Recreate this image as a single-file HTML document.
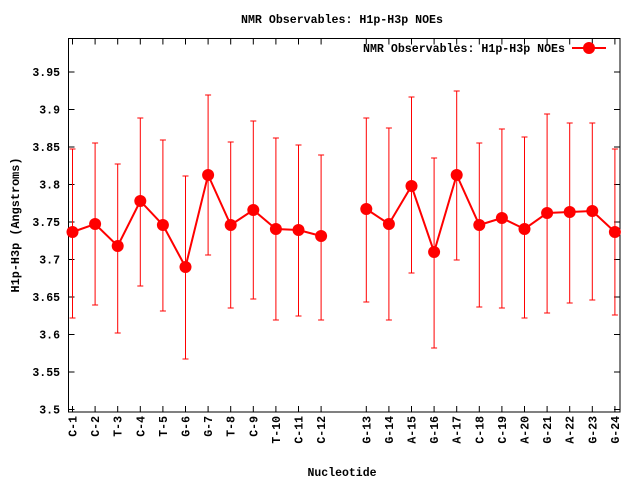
<!DOCTYPE html>
<html><head><meta charset="utf-8"><style>
html,body{margin:0;padding:0;background:#fff;}
svg{display:block;font-family:"Liberation Mono",monospace;font-weight:bold;font-size:11.5px;}
</style></head><body>
<svg width="640" height="480" viewBox="0 0 640 480" xmlns="http://www.w3.org/2000/svg">
<rect width="640" height="480" fill="#fff"/>
<text x="342" y="23" text-anchor="middle" textLength="202" lengthAdjust="spacingAndGlyphs">NMR Observables: H1p-H3p NOEs</text>
<g stroke="#000" stroke-width="1" fill="none">
<rect x="68.5" y="38.5" width="551.5" height="373.5"/>
<path d="M68.5 72h6M620 72h-6M68.5 109.5h6M620 109.5h-6M68.5 147h6M620 147h-6M68.5 184.5h6M620 184.5h-6M68.5 222h6M620 222h-6M68.5 259.5h6M620 259.5h-6M68.5 297h6M620 297h-6M68.5 334.5h6M620 334.5h-6M68.5 372h6M620 372h-6M68.5 409.5h6M620 409.5h-6"/>
<path d="M72.5 412v-6M95.1 412v-6M117.7 412v-6M140.3 412v-6M162.9 412v-6M185.5 412v-6M208.1 412v-6M230.7 412v-6M253.3 412v-6M275.9 412v-6M298.5 412v-6M321.1 412v-6M366.3 412v-6M388.9 412v-6M411.5 412v-6M434.1 412v-6M456.7 412v-6M479.3 412v-6M501.9 412v-6M524.5 412v-6M547.1 412v-6M569.7 412v-6M592.3 412v-6M614.9 412v-6M72.5 38.5v6M95.1 38.5v6M117.7 38.5v6M140.3 38.5v6M162.9 38.5v6M185.5 38.5v6M208.1 38.5v6M230.7 38.5v6M253.3 38.5v6M275.9 38.5v6M298.5 38.5v6M321.1 38.5v6M366.3 38.5v6M388.9 38.5v6M411.5 38.5v6M434.1 38.5v6M456.7 38.5v6M479.3 38.5v6M501.9 38.5v6M524.5 38.5v6M547.1 38.5v6M569.7 38.5v6M592.3 38.5v6M614.9 38.5v6"/>
</g>
<g text-anchor="end">
<text x="60" y="76">3.95</text><text x="60" y="113.5">3.9</text><text x="60" y="151">3.85</text><text x="60" y="188.5">3.8</text><text x="60" y="226">3.75</text><text x="60" y="263.5">3.7</text><text x="60" y="301">3.65</text><text x="60" y="338.5">3.6</text><text x="60" y="376">3.55</text><text x="60" y="413.5">3.5</text>
</g>
<text transform="translate(19,225) rotate(-90)" text-anchor="middle" textLength="135" lengthAdjust="spacingAndGlyphs">H1p-H3p (Angstroms)</text>
<text x="342" y="476" text-anchor="middle">Nucleotide</text>
<g text-anchor="end">
<text transform="translate(76.5,416) rotate(-90)">C-1</text>
<text transform="translate(99.1,416) rotate(-90)">C-2</text>
<text transform="translate(121.7,416) rotate(-90)">T-3</text>
<text transform="translate(144.3,416) rotate(-90)">C-4</text>
<text transform="translate(166.9,416) rotate(-90)">T-5</text>
<text transform="translate(189.5,416) rotate(-90)">G-6</text>
<text transform="translate(212.1,416) rotate(-90)">G-7</text>
<text transform="translate(234.7,416) rotate(-90)">T-8</text>
<text transform="translate(257.3,416) rotate(-90)">C-9</text>
<text transform="translate(279.9,416) rotate(-90)">T-10</text>
<text transform="translate(302.5,416) rotate(-90)">C-11</text>
<text transform="translate(325.1,416) rotate(-90)">C-12</text>
<text transform="translate(370.3,416) rotate(-90)">G-13</text>
<text transform="translate(392.9,416) rotate(-90)">G-14</text>
<text transform="translate(415.5,416) rotate(-90)">A-15</text>
<text transform="translate(438.1,416) rotate(-90)">G-16</text>
<text transform="translate(460.7,416) rotate(-90)">A-17</text>
<text transform="translate(483.3,416) rotate(-90)">C-18</text>
<text transform="translate(505.9,416) rotate(-90)">C-19</text>
<text transform="translate(528.5,416) rotate(-90)">A-20</text>
<text transform="translate(551.1,416) rotate(-90)">G-21</text>
<text transform="translate(573.7,416) rotate(-90)">A-22</text>
<text transform="translate(596.3,416) rotate(-90)">G-23</text>
<text transform="translate(618.9,416) rotate(-90)">G-24</text>
</g>
<g stroke="#f00" stroke-width="1" fill="none">
<path d="M72.5 149V318M69.5 149h6M69.5 318h6"/>
<path d="M95.1 143V305M92.1 143h6M92.1 305h6"/>
<path d="M117.7 164V333M114.7 164h6M114.7 333h6"/>
<path d="M140.3 118V286M137.3 118h6M137.3 286h6"/>
<path d="M162.9 140V311M159.9 140h6M159.9 311h6"/>
<path d="M185.5 176V359M182.5 176h6M182.5 359h6"/>
<path d="M208.1 95V255M205.1 95h6M205.1 255h6"/>
<path d="M230.7 142V308M227.7 142h6M227.7 308h6"/>
<path d="M253.3 121V299M250.3 121h6M250.3 299h6"/>
<path d="M275.9 138V320M272.9 138h6M272.9 320h6"/>
<path d="M298.5 145V316M295.5 145h6M295.5 316h6"/>
<path d="M321.1 155V320M318.1 155h6M318.1 320h6"/>
<path d="M366.3 118V302M363.3 118h6M363.3 302h6"/>
<path d="M388.9 128V320M385.9 128h6M385.9 320h6"/>
<path d="M411.5 97V273M408.5 97h6M408.5 273h6"/>
<path d="M434.1 158V348M431.1 158h6M431.1 348h6"/>
<path d="M456.7 91V260M453.7 91h6M453.7 260h6"/>
<path d="M479.3 143V307M476.3 143h6M476.3 307h6"/>
<path d="M501.9 129V308M498.9 129h6M498.9 308h6"/>
<path d="M524.5 137V318M521.5 137h6M521.5 318h6"/>
<path d="M547.1 114V313M544.1 114h6M544.1 313h6"/>
<path d="M569.7 123V303M566.7 123h6M566.7 303h6"/>
<path d="M592.3 123V300M589.3 123h6M589.3 300h6"/>
<path d="M614.9 149V315M611.9 149h6M611.9 315h6"/>
</g>
<g stroke="#f00" stroke-width="2" fill="none">
<path d="M72.5 232L95.1 224L117.7 246L140.3 201L162.9 225L185.5 267L208.1 175L230.7 225L253.3 210L275.9 229L298.5 230L321.1 236"/>
<path d="M366.3 209L388.9 224L411.5 186L434.1 252L456.7 175L479.3 225L501.9 218L524.5 229L547.1 213L569.7 212L592.3 211L614.9 232"/>
</g>
<g fill="#f00">
<circle cx="72.5" cy="232" r="6"/><circle cx="95.1" cy="224" r="6"/><circle cx="117.7" cy="246" r="6"/><circle cx="140.3" cy="201" r="6"/><circle cx="162.9" cy="225" r="6"/><circle cx="185.5" cy="267" r="6"/><circle cx="208.1" cy="175" r="6"/><circle cx="230.7" cy="225" r="6"/><circle cx="253.3" cy="210" r="6"/><circle cx="275.9" cy="229" r="6"/><circle cx="298.5" cy="230" r="6"/><circle cx="321.1" cy="236" r="6"/>
<circle cx="366.3" cy="209" r="6"/><circle cx="388.9" cy="224" r="6"/><circle cx="411.5" cy="186" r="6"/><circle cx="434.1" cy="252" r="6"/><circle cx="456.7" cy="175" r="6"/><circle cx="479.3" cy="225" r="6"/><circle cx="501.9" cy="218" r="6"/><circle cx="524.5" cy="229" r="6"/><circle cx="547.1" cy="213" r="6"/><circle cx="569.7" cy="212" r="6"/><circle cx="592.3" cy="211" r="6"/><circle cx="614.9" cy="232" r="6"/>
</g>
<text x="565" y="52" text-anchor="end" textLength="202" lengthAdjust="spacingAndGlyphs">NMR Observables: H1p-H3p NOEs</text>
<line x1="572" y1="48" x2="606" y2="48" stroke="#f00" stroke-width="2"/>
<circle cx="589" cy="48" r="6" fill="#f00"/>
</svg>
</body></html>
